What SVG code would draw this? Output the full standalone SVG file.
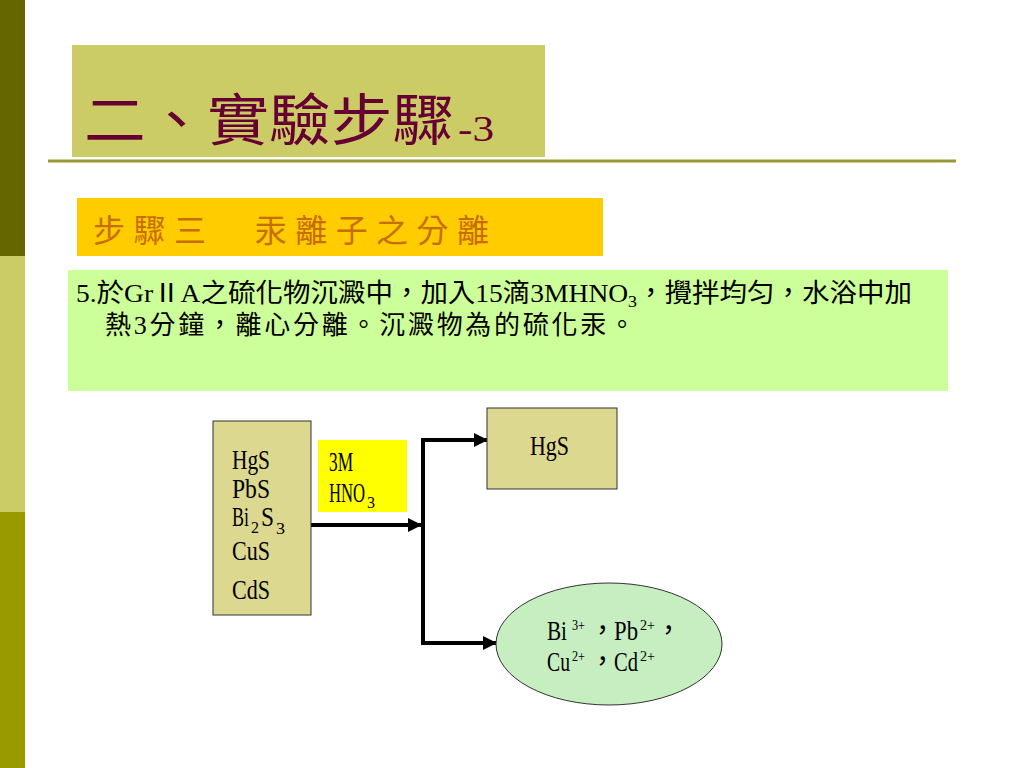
<svg xmlns="http://www.w3.org/2000/svg" width="1024" height="768" viewBox="0 0 1024 768">
<defs>
<style>
.cjk{font-family:"Liberation Serif","Noto Sans CJK TC",serif;}
.lbl{font-family:"Liberation Serif","Noto Sans CJK TC",serif;font-size:27px;fill:#000;}
.sm{font-family:"Liberation Serif","Noto Sans CJK TC",serif;font-size:17px;fill:#000;}
.sup{font-family:"Liberation Serif","Noto Sans CJK TC",serif;font-size:15px;fill:#000;}
.conn{stroke:#000;stroke-width:4;fill:none;}
.box{stroke:#333;stroke-width:1;}
</style>
<marker id="ah" markerUnits="userSpaceOnUse" markerWidth="14" markerHeight="14" refX="13" refY="7" orient="auto">
<path d="M0,0 L14,7 L0,14 Z" fill="#000"/>
</marker>
</defs>
<rect width="1024" height="768" fill="#FFFFFF"/>
<g id="sidebar">
<rect x="0" y="0" width="25" height="256" fill="#666600"/>
<rect x="0" y="256" width="25" height="256" fill="#CCCC66"/>
<rect x="0" y="512" width="25" height="256" fill="#999900"/>
</g>
<g id="title">
<rect x="72" y="45" width="473" height="112" fill="#CCCC66"/>
<text class="cjk" x="84" y="140" font-size="56" fill="#660033" textLength="370" lengthAdjust="spacingAndGlyphs">二、實驗步驟</text>
<text class="cjk" x="458" y="141" font-size="36" fill="#660033" textLength="36" lengthAdjust="spacingAndGlyphs">-3</text>
</g>
<line x1="48" y1="161" x2="956" y2="161" stroke="#999933" stroke-width="3"/>
<g id="subtitle">
<rect x="77" y="198" width="526" height="58" fill="#FFCC00"/>
<text class="cjk" x="93" y="242" font-size="32" fill="#C86E00" textLength="396" lengthAdjust="spacing">步驟三　汞離子之分離</text>
</g>
<g id="description">
<rect x="68" y="270" width="880" height="121" fill="#CCFF99"/>
<text class="cjk" x="76" y="302" font-size="26" fill="#000" textLength="836" lengthAdjust="spacingAndGlyphs">5.於GrⅡA之硫化物沉澱中，加入15滴3MHNO<tspan font-size="17" dy="5">3</tspan><tspan dy="-5">，攪拌均匀，水浴中加</tspan></text>
<text class="cjk" x="105" y="334" font-size="26" fill="#000" textLength="530" lengthAdjust="spacing">熱3分鐘，離心分離。沉澱物為的硫化汞。</text>
</g>
<g id="connectors">
<line class="conn" x1="311" y1="525" x2="421" y2="525" marker-end="url(#ah)"/>
<line class="conn" x1="423" y1="438" x2="423" y2="645"/>
<line class="conn" x1="421" y1="440" x2="487" y2="440" marker-end="url(#ah)"/>
<line class="conn" x1="421" y1="643" x2="496" y2="643" marker-end="url(#ah)"/>
</g>
<g id="node-mixture">
<rect class="box" x="213" y="421" width="98" height="194" fill="#DDD890"/>
<text class="lbl" x="232" y="469" textLength="38" lengthAdjust="spacingAndGlyphs">HgS</text>
<text class="lbl" x="232" y="498" textLength="38" lengthAdjust="spacingAndGlyphs">PbS</text>
<text class="lbl" x="232" y="526" textLength="17" lengthAdjust="spacingAndGlyphs">Bi</text>
<text class="sm" x="251" y="533" textLength="8" lengthAdjust="spacingAndGlyphs">2</text>
<text class="lbl" x="261" y="526" textLength="13" lengthAdjust="spacingAndGlyphs">S</text>
<text class="sm" x="276" y="534" textLength="9" lengthAdjust="spacingAndGlyphs">3</text>
<text class="lbl" x="232" y="560" textLength="38" lengthAdjust="spacingAndGlyphs">CuS</text>
<text class="lbl" x="232" y="599" textLength="38" lengthAdjust="spacingAndGlyphs">CdS</text>
</g>
<g id="node-reagent">
<rect x="318" y="440" width="89" height="72" fill="#FFFF00"/>
<text class="lbl" x="329" y="471" textLength="24" lengthAdjust="spacingAndGlyphs">3M</text>
<text class="lbl" x="329" y="502" textLength="36" lengthAdjust="spacingAndGlyphs">HNO</text>
<text class="sm" x="367" y="508" textLength="8" lengthAdjust="spacingAndGlyphs">3</text>
</g>
<g id="node-hgs">
<rect class="box" x="487" y="408" width="130" height="81" fill="#DDD890"/>
<text class="lbl" x="530" y="455" textLength="39" lengthAdjust="spacingAndGlyphs">HgS</text>
</g>
<g id="node-ions">
<ellipse cx="609" cy="644" rx="113" ry="61" fill="#C6EEC0" stroke="#333" stroke-width="1"/>
<text class="lbl" x="547" y="640" textLength="20" lengthAdjust="spacingAndGlyphs">Bi</text>
<text class="sup" x="572" y="630" textLength="13" lengthAdjust="spacingAndGlyphs">3+</text>
<text class="lbl" x="589" y="640">，</text>
<text class="lbl" x="614" y="640" textLength="24" lengthAdjust="spacingAndGlyphs">Pb</text>
<text class="sup" x="640" y="630" textLength="15" lengthAdjust="spacingAndGlyphs">2+</text>
<text class="lbl" x="655" y="640">，</text>
<text class="lbl" x="547" y="671" textLength="23" lengthAdjust="spacingAndGlyphs">Cu</text>
<text class="sup" x="572" y="661" textLength="13" lengthAdjust="spacingAndGlyphs">2+</text>
<text class="lbl" x="589" y="671">，</text>
<text class="lbl" x="614" y="671" textLength="24" lengthAdjust="spacingAndGlyphs">Cd</text>
<text class="sup" x="640" y="661" textLength="15" lengthAdjust="spacingAndGlyphs">2+</text>
</g>
</svg>
